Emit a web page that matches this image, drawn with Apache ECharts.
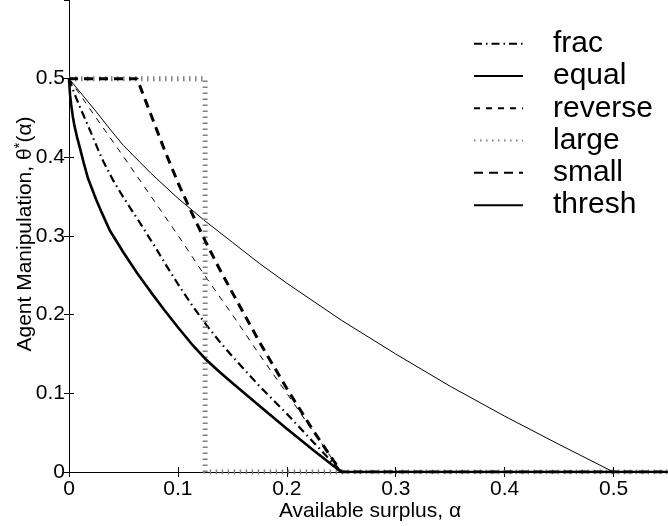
<!DOCTYPE html>
<html>
<head>
<meta charset="utf-8">
<script src="https://cdn.jsdelivr.net/npm/echarts@6/dist/echarts.min.js"></script>
<style>html,body{margin:0;padding:0;background:#fff}#c{width:668px;height:526px}</style>
</head>
<body>
<div id="c"></div>
<script>
const seriesNames = ['frac', 'equal', 'reverse', 'large', 'small', 'thresh'];

const fracAlpha = [0, 0.005, 0.01, 0.015, 0.02, 0.03, 0.04, 0.05, 0.065, 0.08, 0.09, 0.1, 0.1125, 0.125, 0.1375, 0.15, 0.175, 0.2, 0.225, 0.25, 0.55];
const fracTheta = [0.5, 0.481, 0.464, 0.448, 0.432, 0.399, 0.372, 0.349, 0.317, 0.284, 0.261, 0.239, 0.213, 0.189, 0.167, 0.147, 0.109, 0.074, 0.037, 0, 0];

const equalAlpha = [0, 0.0125, 0.025, 0.0375, 0.05, 0.075, 0.1, 0.125, 0.15, 0.175, 0.2, 0.25, 0.3, 0.35, 0.4, 0.45, 0.5, 0.55];
const equalTheta = [0.5, 0.479, 0.458, 0.436, 0.415, 0.38, 0.348, 0.319, 0.292, 0.265, 0.24, 0.193, 0.15, 0.109, 0.071, 0.035, 0, 0];

const reverseAlpha = [0, 0.025, 0.05, 0.075, 0.1, 0.125, 0.15, 0.175, 0.2, 0.225, 0.25, 0.55];
const reverseTheta = [0.5, 0.45, 0.401, 0.351, 0.301, 0.249, 0.2, 0.149, 0.1, 0.05, 0, 0];

const largeAlpha = [0, 0.125, 0.125, 0.55];
const largeTheta = [0.5, 0.5, 0, 0];

const smallAlpha = [0, 0.0625, 0.075, 0.0875, 0.1, 0.1125, 0.125, 0.1375, 0.15, 0.175, 0.2, 0.225, 0.25, 0.55];
const smallTheta = [0.5, 0.5, 0.455, 0.41, 0.368, 0.33, 0.294, 0.26, 0.228, 0.165, 0.106, 0.051, 0, 0];

const threshAlpha = [0, 0.001, 0.002, 0.0035, 0.005, 0.0075, 0.01, 0.0135, 0.0175, 0.025, 0.03, 0.0375, 0.05, 0.0625, 0.075, 0.0875, 0.1, 0.1125, 0.125, 0.1375, 0.15, 0.175, 0.2, 0.225, 0.25, 0.55];
const threshTheta = [0.5, 0.479, 0.467, 0.452, 0.44, 0.425, 0.412, 0.393, 0.373, 0.346, 0.33, 0.307, 0.279, 0.253, 0.229, 0.206, 0.184, 0.163, 0.144, 0.128, 0.113, 0.084, 0.055, 0.027, 0, 0];

const xTitle = 'Available surplus, α';
const yTitleMain = 'Agent Manipulation, θ';
const yTitleSup = '*';
const yTitleEnd = '(α)';

const FONT = "'Liberation Sans', Arial, Helvetica, sans-serif";

function pairs(xs, ys) { return xs.map((x, i) => [x, ys[i]]); }

const styles = {
  frac:    { color: '#000', width: 2.2, type: [8, 4, 1.5, 4] },
  equal:   { color: '#000', width: 1, type: 'solid' },
  reverse: { color: '#000', width: 1, type: [6, 6] },
  large:   { color: '#808080', width: 5, type: [1.5, 4.5] },
  small:   { color: '#000', width: 3, type: [9, 6] },
  thresh:  { color: '#000', width: 2.6, type: 'solid' }
};
const dataMap = {
  frac: pairs(fracAlpha, fracTheta),
  equal: pairs(equalAlpha, equalTheta),
  reverse: pairs(reverseAlpha, reverseTheta),
  large: pairs(largeAlpha, largeTheta),
  small: pairs(smallAlpha, smallTheta),
  thresh: pairs(threshAlpha, threshTheta)
};

const axisCommonX = {
  type: 'value', min: 0, max: 0.55, interval: 0.1,
  axisLine: { show: true, lineStyle: { color: '#000', width: 1 } },
  axisTick: { show: true, inside: true, length: 5, lineStyle: { color: '#000', width: 1 } },
  splitLine: { show: false }
};
const axisCommonY = {
  type: 'value', min: 0, max: 0.6, interval: 0.1,
  axisLine: { show: true, lineStyle: { color: '#000', width: 1 } },
  axisTick: { show: true, inside: true, length: 5, lineStyle: { color: '#000', width: 1 } },
  splitLine: { show: false }
};

const chart = echarts.init(document.getElementById('c'), null, { renderer: 'canvas' });
chart.setOption({
  animation: false,
  backgroundColor: '#fff',
  grid: { left: 69, right: 0, top: -2, bottom: 54, containLabel: false },
  xAxis: [
    Object.assign({}, axisCommonX, {
      position: 'bottom',
      axisLabel: { show: true, color: '#000', fontSize: 21, fontFamily: FONT, margin: 7, showMaxLabel: false }
    }),
    Object.assign({}, axisCommonX, { position: 'top', axisLabel: { show: false } })
  ],
  yAxis: [
    Object.assign({}, axisCommonY, {
      position: 'left',
      axisLabel: { show: true, color: '#000', fontSize: 21, fontFamily: FONT, margin: 4, showMaxLabel: false }
    }),
    Object.assign({}, axisCommonY, { position: 'right', axisLabel: { show: false } })
  ],
  legend: {
    orient: 'vertical', left: 473, top: 27.5, padding: 0,
    itemWidth: 49, itemHeight: 10, itemGap: 0,
    selectedMode: false,
    data: seriesNames.slice(),
    itemStyle: { opacity: 0, color: 'rgba(0,0,0,0)', borderWidth: 0 },
    textStyle: { fontSize: 30, lineHeight: 32.3, fontFamily: FONT, color: '#000', padding: [0, 0, 0, 25] }
  },
  series: seriesNames.map(n => ({
    name: n, type: 'line', xAxisIndex: 0, yAxisIndex: 0,
    data: dataMap[n], symbol: 'none', smooth: false,
    lineStyle: { color: styles[n].color, width: styles[n].width, type: styles[n].type },
    itemStyle: { color: styles[n].color },
    emphasis: { disabled: true }
  })),
  graphic: [
    {
      type: 'text', x: 370, y: 511,
      style: { text: xTitle, font: '21px ' + FONT, fill: '#000', align: 'center', verticalAlign: 'middle' }
    },
    {
      type: 'text', x: 25, y: 234, rotation: Math.PI / 2,
      style: {
        text: '{n|' + yTitleMain + '}{s|' + yTitleSup + '}{n|' + yTitleEnd + '}',
        align: 'center', verticalAlign: 'middle', fill: '#000',
        rich: {
          n: { fontSize: 21, fontFamily: FONT, fill: '#000', lineHeight: 26 },
          s: { fontSize: 15, fontFamily: FONT, fill: '#000', verticalAlign: 'top' }
        }
      }
    }
  ]
});
</script>
</body>
</html>
